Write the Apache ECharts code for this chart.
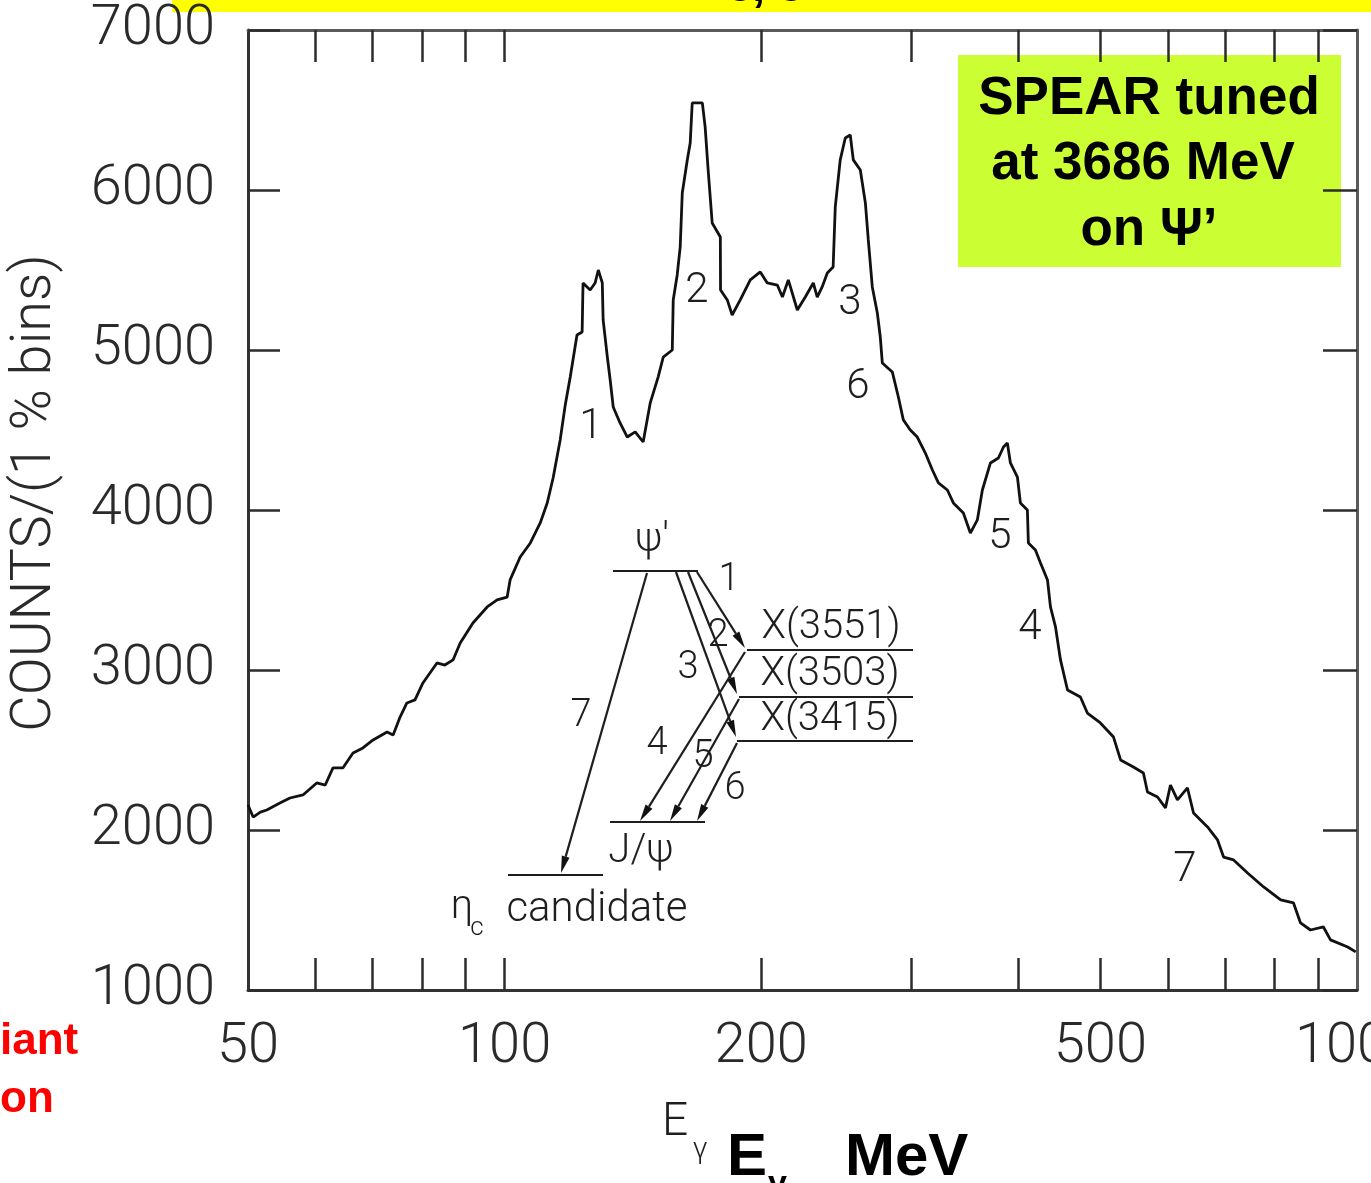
<!DOCTYPE html>
<html>
<head>
<meta charset="utf-8">
<script src="https://cdn.jsdelivr.net/npm/echarts@6/dist/echarts.min.js"></script>
<style>
  html, body { margin: 0; padding: 0; background: #fff; }
  #chart { width: 1371px; height: 1183px; }
</style>
</head>
<body>
<div id="chart"></div>
<script>
// Inclusive photon spectrum from psi' decays, 1% energy bins
const energies = [
  50.0, 50.7, 51.7, 52.6, 54.5, 56.0, 58.0, 60.2, 61.6, 62.9,
  64.6, 66.4, 68.2, 70.1, 72.8, 74.0, 75.4, 76.8, 78.5, 80.2,
  83.3, 85.1, 87.0, 88.7, 91.8, 95.4, 98.0, 100.7, 101.5, 104.3,
  107.2, 110.1, 112.2, 114.0, 116.2, 117.8, 119.4, 121.6, 123.3, 123.6,
  126.0, 127.7, 128.8, 130.2, 130.5, 131.9, 133.0, 134.1, 136.6, 139.3,
  142.3, 145.4, 148.2, 151.4, 153.5, 157.3, 157.7, 159.4, 160.7, 161.6,
  163.8, 165.1, 166.0, 170.6, 171.9, 173.3, 175.2, 179.1, 179.2, 182.5,
  184.9, 189.0, 194.2, 199.5, 203.3, 208.9, 211.8, 215.2, 220.5, 225.3,
  230.2, 232.7, 235.8, 239.1, 242.9, 244.3, 247.6, 251.0, 254.4, 256.5,
  261.4, 265.0, 267.1, 270.0, 273.7, 275.9, 277.4, 285.0, 289.7, 293.6,
  299.2, 304.9, 311.6, 317.6, 322.8, 330.7, 336.1, 345.3, 351.9, 358.6,
  363.5, 371.5, 379.6, 384.8, 388.9, 392.1, 399.6, 402.8, 410.5, 411.6,
  419.5, 425.3, 433.4, 436.9, 442.9, 448.9, 457.5, 473.7, 482.7, 500.0,
  518.0, 528.0, 546.6, 561.6, 567.8, 583.4, 596.1, 604.2, 615.7, 632.5,
  643.0, 667.8, 686.1, 697.4, 716.5, 744.1, 777.1, 813.7, 842.4, 858.5,
  881.8, 913.3, 930.9, 975.1, 996.6
];
const counts = [
  2156, 2081, 2112, 2125, 2169, 2200, 2219, 2294, 2281, 2388,
  2388, 2481, 2513, 2563, 2613, 2594, 2706, 2794, 2813, 2919,
  3044, 3031, 3063, 3169, 3294, 3394, 3438, 3456, 3563, 3706,
  3794, 3919, 4044, 4200, 4438, 4656, 4831, 5094, 5113, 5419,
  5375, 5419, 5500, 5419, 5188, 4969, 4813, 4644, 4544, 4456,
  4488, 4425, 4669, 4831, 4956, 5000, 5313, 5469, 5644, 5981,
  6188, 6294, 6544, 6544, 6394, 6125, 5794, 5706, 5375, 5313,
  5219, 5313, 5438, 5488, 5419, 5406, 5331, 5438, 5250, 5331,
  5419, 5331, 5394, 5481, 5519, 5894, 6188, 6325, 6344, 6188,
  6125, 5919, 5688, 5394, 5231, 5081, 4919, 4863, 4706, 4563,
  4500, 4456, 4356, 4250, 4169, 4125, 4044, 3981, 3856, 3938,
  4125, 4294, 4325, 4394, 4419, 4294, 4206, 4044, 4000, 3794,
  3750, 3669, 3563, 3394, 3269, 3063, 2875, 2831, 2731, 2669,
  2581, 2438, 2394, 2356, 2238, 2206, 2138, 2281, 2188, 2263,
  2106, 2019, 1938, 1831, 1813, 1731, 1644, 1563, 1544, 1419,
  1375, 1394, 1313, 1269, 1238
];

// Axis ticks and labels
const xTickValues = [60, 70, 80, 90, 100, 200, 300, 400, 500, 600, 700, 800, 900];
const xLabelValues = [50, 100, 200, 500, 1000];
const yMin = 1000, yMax = 7000, yStep = 1000;

const THIN = 'Roboto';
const BOLD = 'Liberation Sans, Arial, sans-serif';
const INK = '#1e1e1e';

function txt(text, x, y, size, extra) {
  const s = Object.assign({
    text: text, fontSize: size, fontFamily: THIN, fontWeight: 300,
    fill: INK, align: 'center', verticalAlign: 'middle',
    textAlign: 'center', textVerticalAlign: 'middle'
  }, extra || {});
  return { type: 'text', x: x, y: y, silent: true, style: s };
}
function seg(x1, y1, x2, y2, w) {
  return { type: 'line', silent: true, shape: { x1, y1, x2, y2 },
           style: { stroke: INK, lineWidth: w || 2.2 } };
}
function arrow(x1, y1, x2, y2) {
  const dx = x2 - x1, dy = y2 - y1, len = Math.hypot(dx, dy);
  const ux = dx / len, uy = dy / len, nx = -uy, ny = ux;
  const L = 17, W = 4;
  const bx = x2 - ux * L, by = y2 - uy * L;
  return [
    seg(x1, y1, bx, by),
    { type: 'polygon', silent: true,
      shape: { points: [[x2, y2], [bx + nx * W, by + ny * W], [bx - nx * W, by - ny * W]] },
      style: { fill: '#111' } }
  ];
}

const boldBlack = { fontFamily: BOLD, fontWeight: 'bold', fill: '#000' };
const leftAlign = { align: 'left', textAlign: 'left' };

const graphics = [
  // slide banner at the top
  { type: 'rect', silent: true, shape: { x: 172, y: 0, width: 1199, height: 12 }, style: { fill: '#ffff00' } },
  txt('c, c', 765, -12, 46, boldBlack),
  // side caption
  txt('iant', 0, 1042, 44, Object.assign({ fontFamily: BOLD, fontWeight: 'bold', fill: '#ff0000' }, leftAlign)),
  txt('on', 0, 1100, 44, Object.assign({ fontFamily: BOLD, fontWeight: 'bold', fill: '#ff0000' }, leftAlign)),
  // run condition box
  { type: 'rect', silent: true, shape: { x: 958, y: 55, width: 383, height: 212 }, style: { fill: '#ccff33' } },
  txt('SPEAR tuned', 1149, 99, 53, boldBlack),
  txt('at 3686 MeV', 1143, 164, 53, boldBlack),
  txt('on \u03A8\u2019', 1149, 230, 53, boldBlack),
  // x axis titles
  txt('E', 675, 1123, 46),
  txt('\u03B3', 700, 1150, 30),
  txt('E', 727, 1158, 60, Object.assign({}, boldBlack, leftAlign)),
  txt('\u03B3', 768, 1185, 34, Object.assign({}, boldBlack, leftAlign)),
  txt('MeV', 845, 1158, 60, Object.assign({}, boldBlack, leftAlign)),
  // transition numbers on the spectrum
  txt('1', 591, 427, 42), txt('2', 697, 291, 42), txt('3', 850, 303, 42),
  txt('6', 858, 387, 42), txt('5', 1000, 537, 42), txt('4', 1030, 628, 42),
  txt('7', 1185, 870, 42),
  // level scheme
  seg(613, 571, 698, 571), txt('\u03C8\u2032', 652, 541, 40),
  seg(747, 650, 913, 650), txt('X(3551)', 831, 628, 40),
  seg(739, 697, 913, 697), txt('X(3503)', 830, 675, 40),
  seg(737, 741, 913, 741), txt('X(3415)', 830, 720, 40),
  seg(610, 822, 705, 822), txt('J/\u03C8', 641, 852, 40),
  seg(508, 875, 603, 875), txt('\u03B7', 462, 908, 40), txt('c', 477, 928, 26),
  txt('candidate', 597, 910, 42),
  txt('1', 729, 580, 38), txt('2', 718, 636, 38), txt('3', 688, 668, 38),
  txt('7', 581, 716, 38), txt('4', 657, 744, 38), txt('5', 703, 757, 38),
  txt('6', 735, 789, 38)
].concat(
  arrow(697, 572, 745, 648),
  arrow(688, 572, 737, 694),
  arrow(676, 572, 736, 737),
  arrow(745, 652, 640, 821),
  arrow(739, 699, 670, 821),
  arrow(737, 743, 697, 821),
  arrow(647, 573, 561, 873)
);

const axisLineStyle = { color: '#333', width: 3 };
const tickStyle = { color: '#2c2c2c', width: 2.5 };
const plainNumber = v => String(Math.round(v));
const labelFont = { fontFamily: THIN, fontWeight: 300, fontSize: 56, color: '#2a2a2a', formatter: plainNumber };

const chart = echarts.init(document.getElementById('chart'), null, { renderer: 'canvas' });
chart.setOption({
  animation: false,
  backgroundColor: '#ffffff',
  grid: { left: 248, right: 14, top: 30, bottom: 193, containLabel: false, outerBoundsMode: 'none' },
  xAxis: [
    {
      type: 'log', logBase: 10, min: 50, max: 1000, position: 'bottom',
      axisLine: { show: true, lineStyle: axisLineStyle },
      axisTick: { show: true, inside: true, length: 32, lineStyle: tickStyle, customValues: xTickValues },
      axisLabel: Object.assign({ customValues: xLabelValues, margin: 30, hideOverlap: false }, labelFont),
      splitLine: { show: false }, minorTick: { show: false }
    },
    {
      type: 'log', logBase: 10, min: 50, max: 1000, position: 'top',
      axisLine: { show: true, lineStyle: { color: '#5a5a5a', width: 3 } },
      axisTick: { show: true, inside: true, length: 32, lineStyle: tickStyle, customValues: xTickValues },
      axisLabel: { show: false },
      splitLine: { show: false }
    }
  ],
  yAxis: [
    {
      type: 'value', min: yMin, max: yMax, interval: yStep, position: 'left',
      axisLine: { show: true, lineStyle: axisLineStyle },
      axisTick: { show: true, inside: true, length: 32, lineStyle: tickStyle },
      axisLabel: Object.assign({ margin: 33 }, labelFont),
      splitLine: { show: false },
      name: 'COUNTS/(1 % bins)', nameLocation: 'middle', nameGap: 184, nameMoveOverlap: false,
      nameTextStyle: { fontFamily: THIN, fontWeight: 300, fontSize: 56, color: '#2a2a2a', padding: [0, 0, 0, 34] }
    },
    {
      type: 'value', min: yMin, max: yMax, interval: yStep, position: 'right',
      axisLine: { show: true, lineStyle: { color: '#5a5a5a', width: 3 } },
      axisTick: { show: true, inside: true, length: 34, lineStyle: tickStyle },
      axisLabel: { show: false },
      splitLine: { show: false }
    }
  ],
  series: [{
    name: 'photon spectrum',
    type: 'line',
    xAxisIndex: 0, yAxisIndex: 0,
    data: energies.map((e, i) => [e, counts[i]]),
    showSymbol: false, symbol: 'none',
    lineStyle: { color: '#111', width: 2.8 },
    clip: true
  }],
  graphic: graphics
});
</script>
</body>
</html>
